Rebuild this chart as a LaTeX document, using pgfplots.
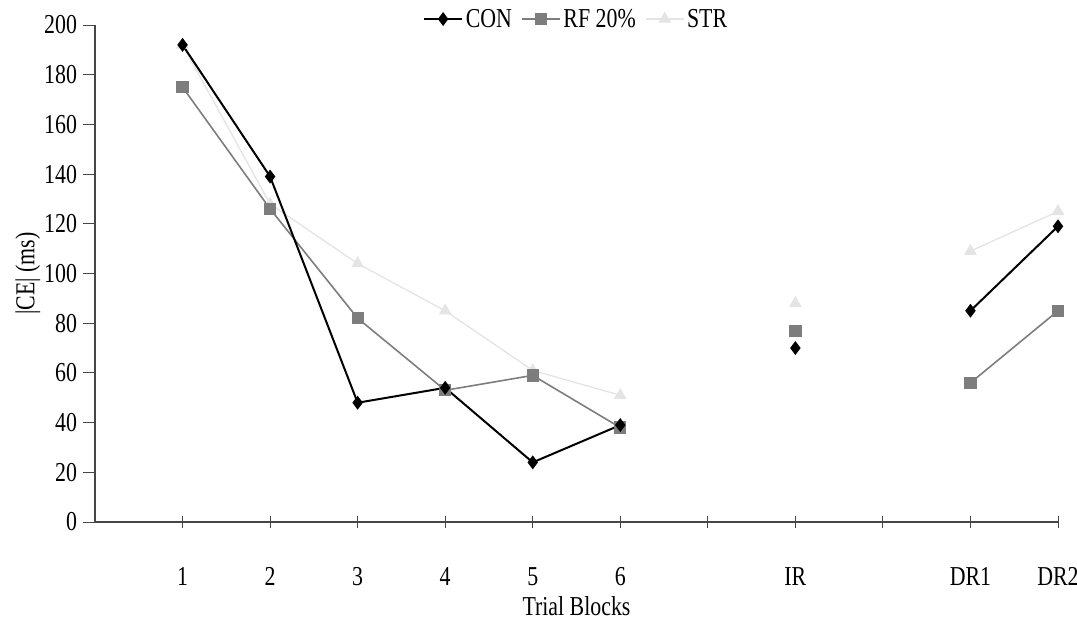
\documentclass[border=0pt]{standalone}
\usepackage{fontspec}
\setmainfont{Liberation Serif}[FakeStretch=0.8]
\usepackage{pgfplots}
\pgfplotsset{compat=1.18}
\definecolor{rfgray}{RGB}{125,125,125}
\definecolor{strgray}{RGB}{228,228,228}
\definecolor{axgray}{RGB}{70,70,70}
\begin{document}
\begin{tikzpicture}
\useasboundingbox (0,0) rectangle (807.75pt,464.25pt);
\begin{axis}[
  at={(71.25pt,72.75pt)}, anchor=south west,
  scale only axis, width=722.25pt, height=372.75pt,
  xmin=0, xmax=11, ymin=0, ymax=200,
  axis x line*=bottom, axis y line*=left,
  axis line style={axgray, line width=0.8pt},
  xtick={1,2,3,4,5,6,7,8,9,10,11},
  xticklabels={1,2,3,4,5,6,,IR,,DR1,DR2},
  ytick={0,20,...,200},
  major tick length=9pt,
  x tick style={axgray, line width=0.7pt},
  y tick style={axgray, line width=0.7pt},
  xtick align=center, ytick align=outside,
  font=\fontsize{20.5}{22}\selectfont,
  /pgf/number format/assume math mode=true,
  xticklabel style={yshift=-26pt},
  yticklabel style={xshift=-1pt},
  xlabel={Trial Blocks},
  ylabel={|CE| (ms)},
  xlabel style={yshift=-1pt},
  ylabel style={yshift=-4pt},
  unbounded coords=jump,
  legend columns=-1,
  reverse legend,
  legend style={at={(0.5,1.012)}, anchor=center, draw=none, fill=none,
    font=\fontsize{20.5}{22}\selectfont,
    /tikz/every even column/.append style={column sep=5pt}},
  legend image code/.code={
    \draw[mark repeat=2,mark phase=2] plot coordinates {(0cm,0cm) (0.5cm,0cm) (1.0cm,0cm)};},
  clip=false,
]
\addplot[strgray, line width=1pt, mark=triangle*, mark size=4.5pt, mark options={fill=strgray,draw=strgray}]
  coordinates {(1,192) (2,128) (3,104) (4,85) (5,61) (6,51) (7,nan) (8,88) (9,nan) (10,109) (11,125)};
\addplot[rfgray, line width=1.2pt, mark=square*, mark size=4pt, mark options={fill=rfgray,draw=rfgray}]
  coordinates {(1,175) (2,126) (3,82) (4,53) (5,59) (6,38) (7,nan) (8,77) (9,nan) (10,56) (11,85)};
\addplot[black, line width=1.5pt, mark=diamond*, mark size=4pt, mark options={fill=black}]
  coordinates {(1,192) (2,139) (3,48) (4,54) (5,24) (6,39) (7,nan) (8,70) (9,nan) (10,85) (11,119)};
\legend{STR,RF 20\%,CON}
\end{axis}
\end{tikzpicture}
\end{document}
